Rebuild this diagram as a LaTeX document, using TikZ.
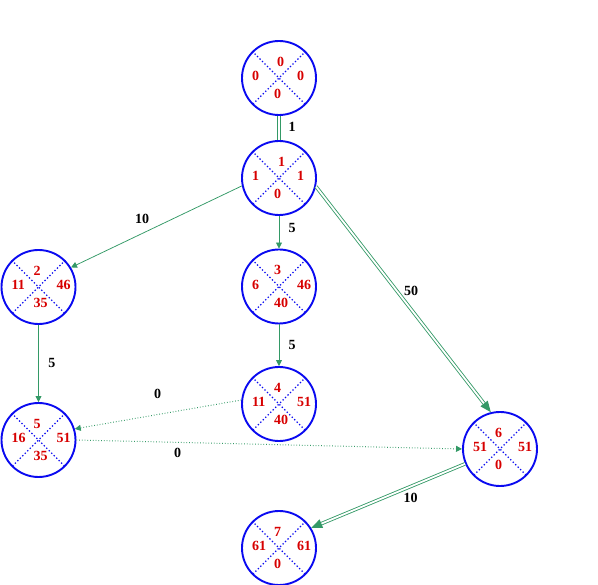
\documentclass[tikz,border=0pt]{standalone}
\usepackage{fontspec}
\setmainfont{Liberation Serif}
\usetikzlibrary{arrows.meta}
\definecolor{eblue}{RGB}{10,10,240}
\definecolor{egreen}{RGB}{51,153,102}
\definecolor{ered}{RGB}{215,0,0}
\tikzset{
 ev/.style={circle,draw=eblue,line width=1.9pt,minimum size=74pt,inner sep=0pt},
 diag/.style={draw=eblue,line width=1.3pt,dash pattern=on 1.3pt off 2.2pt},
 num/.style={text=ered,font=\fontsize{14}{14}\selectfont\bfseries,inner sep=0pt,anchor=west},
 lab/.style={font=\fontsize{14}{14}\selectfont\bfseries,inner sep=0pt},
 act/.style={draw=egreen,line width=0.75pt,-{Triangle[length=6pt,width=6pt]}},
 dum/.style={act,dotted,line width=1pt},
 crit/.style={draw=egreen,double=white,double distance=1.8pt,line width=0.85pt,-{Triangle[length=11pt,width=9pt]}},
}
% name, x, y, top, left, right, bottom, top x-offset
\newcommand\evnode[8]{%
 \node[ev] (#1) at (#2,#3) {};
 \draw[diag] (#1.45) -- (#1.225) (#1.135) -- (#1.-45);
 \node[num] (#1t) at ([shift={(#8,-16.5)}]#1.center) {#4};
 \node[num] (#1l) at ([shift={(-27,-2)}]#1.center) {#5};
 \node[num] (#1r) at ([shift={(18,-2)}]#1.center) {#6};
 \node[num] (#1b) at ([shift={(-5,16)}]#1.center) {#7};
}
\begin{document}
\begin{tikzpicture}[x=1pt,y=-1pt]
\useasboundingbox (0,0) rectangle (598,585);
\evnode{n0}{279}{78}{0}{0}{0}{0}{-2}
\evnode{n1}{279}{178}{1}{1}{1}{0}{-1}
\evnode{n2}{38.5}{287}{2}{11}{46}{35}{-5}
\evnode{n3}{279}{286.5}{3}{6}{46}{40}{-5}
\evnode{n4}{279}{404}{4}{11}{51}{40}{-5}
\evnode{n5}{38.5}{440}{5}{16}{51}{35}{-5}
\evnode{n6}{500}{449}{6}{51}{51}{0}{-5}
\evnode{n7}{279}{548}{7}{61}{61}{0}{-5}
\draw[crit,-] (n0) -- (n1);
\draw[act] (n1.192) -- (n2.31);
\draw[act] (n1) -- (n3);
\draw[crit] (n1.-13) -- (n6.104);
\draw[act] (n2) -- (n5);
\draw[act] (n3) -- (n4);
\draw[dum] (n4.174) -- (n5.17);
\draw[dum] (n5.east) -- (n6.west);
\draw[crit] (n6.203) -- (n7.32);
\node[lab] (l01) at (292,127) {1};
\node[lab] (l12) at (142,218.5) {10};
\node[lab] (l13) at (292,228) {5};
\node[lab] (l16) at (411,291) {50};
\node[lab] (l25) at (52,362.5) {5};
\node[lab] (l34) at (292,344.5) {5};
\node[lab] (l45) at (157.5,393.5) {0};
\node[lab] (l56) at (177.5,452.5) {0};
\node[lab] (l67) at (410.5,498) {10};
\end{tikzpicture}
\end{document}
